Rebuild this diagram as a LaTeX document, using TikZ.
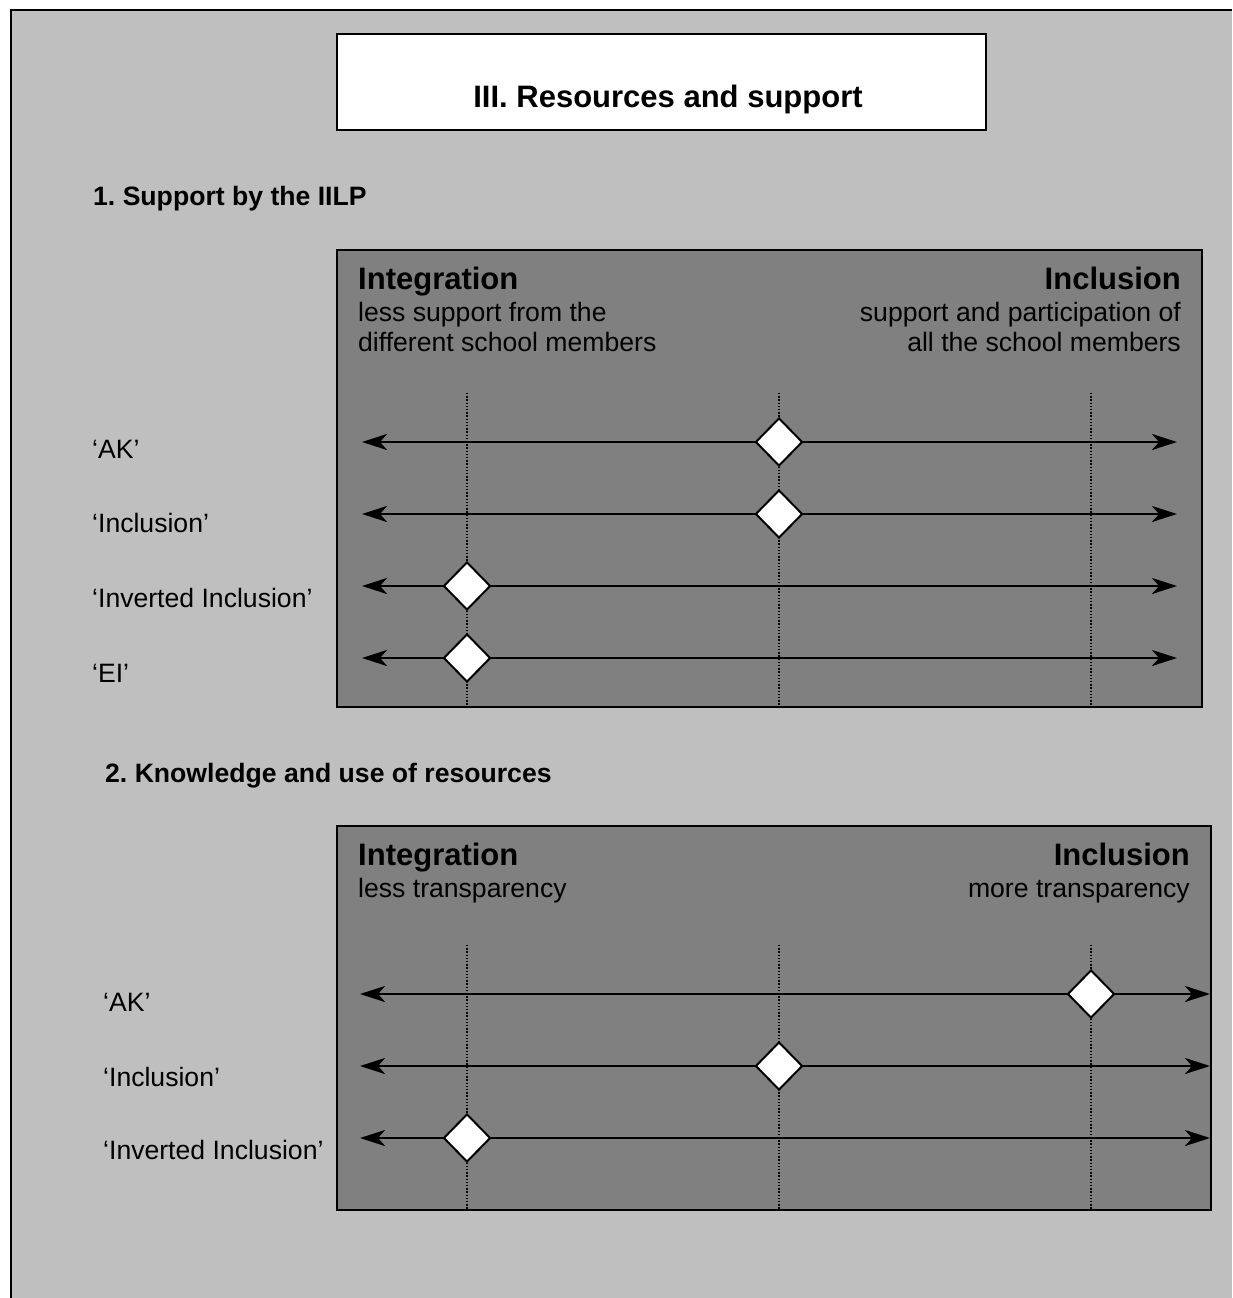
\documentclass[tikz,border=0pt]{standalone}
\usepackage{fontspec}
\setmainfont{Liberation Sans}
\usetikzlibrary{arrows.meta,shapes.geometric}
\definecolor{pagegray}{gray}{0.75}
\definecolor{panelgray}{gray}{0.5}
\frenchspacing
\begin{document}
\begin{tikzpicture}[x=1pt,y=-1pt,
  frameline/.style={line width=2pt},
  txt/.style={inner sep=0pt, font=\fontsize{26.6}{30}\selectfont},
  boldtxt/.style={inner sep=0pt, font=\fontsize{26.6}{30}\selectfont\bfseries},
  pole/.style={inner sep=0pt, font=\fontsize{31}{36}\selectfont\bfseries},
  marker/.style={diamond, draw, fill=white, line width=2pt,
    minimum width=47pt, minimum height=48pt, inner sep=0pt},
  axisline/.style={line width=2.7pt,
    {Stealth[length=25pt,width=16pt,inset=7pt]}-{Stealth[length=25pt,width=16pt,inset=7pt]}},
  guide/.style={line width=1.4pt, dash pattern=on 1.4pt off 1.8pt},
]
\useasboundingbox (0,0) rectangle (1232,1298);
\fill[white] (0,0) rectangle (1232,1298);

% page area: only its left and top borders fall inside the picture
\fill[pagegray] (11,10) rectangle (1232,1298);
\draw[frameline] (11,1298) -- (11,10) -- (1232,10);

% title box
\node[draw, frameline, fill=white, minimum width=649pt, minimum height=96pt,
  inner sep=0pt] (titlebox) at (661.5,82) {};
\node[pole, anchor=base] (title) at (668,107) {III. Resources and support};

% ---------------- section 1 ----------------
\node[boldtxt, anchor=base west] (sec1) at (93,205) {1. Support by the IILP};
\draw[frameline, fill=panelgray] (337,250) rectangle (1202,707);
\node[pole, anchor=base west] (intA) at (358,289) {Integration};
\node[txt, anchor=base west] (intA1) at (358,321.5) {less support from the};
\node[txt, anchor=base west] (intA2) at (358,351.5) {different school members};
\node[pole, anchor=base east] (incA) at (1181,289) {Inclusion};
\node[txt, anchor=base east] (incA1) at (1181,321.5) {support and participation of};
\node[txt, anchor=base east] (incA2) at (1181,351.5) {all the school members};

\foreach \gx in {467,779,1091}
  \draw[guide] (\gx,393) -- (\gx,706);

\foreach \i/\ry/\ly/\mx/\lab in {1/442/458/779/{`AK'},
    2/514/532/779/{`Inclusion'},
    3/586/607/467/{`Inverted Inclusion'},
    4/658/682/467/{`EI'}} {
  \node[txt, anchor=base west] (la\i) at (92,\ly) {\lab};
  \coordinate (aL\i) at (362,\ry);
  \coordinate (aR\i) at (1177,\ry);
  \draw[axisline] (aL\i) -- (aR\i);
  \node[marker] (ma\i) at (\mx,\ry) {};
}

% ---------------- section 2 ----------------
\node[boldtxt, anchor=base west] (sec2) at (105,782) {2. Knowledge and use of resources};
\draw[frameline, fill=panelgray] (337,826) rectangle (1211,1210);
\node[pole, anchor=base west] (intB) at (358,865) {Integration};
\node[txt, anchor=base west] (intB1) at (358,897) {less transparency};
\node[pole, anchor=base east] (incB) at (1190,865) {Inclusion};
\node[txt, anchor=base east] (incB1) at (1190,897) {more transparency};

\foreach \gx in {467,779,1091}
  \draw[guide] (\gx,945) -- (\gx,1209);

\foreach \i/\ry/\ly/\mx/\lab in {1/994/1011/1091/{`AK'},
    2/1066/1086/779/{`Inclusion'},
    3/1138/1159/467/{`Inverted Inclusion'}} {
  \node[txt, anchor=base west] (lb\i) at (103,\ly) {\lab};
  \coordinate (bL\i) at (360,\ry);
  \coordinate (bR\i) at (1210,\ry);
  \draw[axisline] (bL\i) -- (bR\i);
  \node[marker] (mb\i) at (\mx,\ry) {};
}
\end{tikzpicture}
\end{document}
